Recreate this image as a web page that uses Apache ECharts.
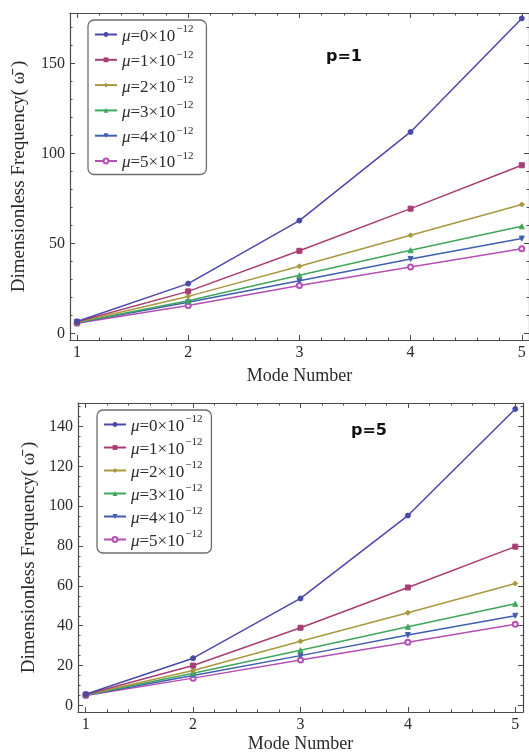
<!DOCTYPE html>
<html>
<head>
<meta charset="utf-8">
<title>Dimensionless Frequency vs Mode Number</title>
<script src="https://cdn.jsdelivr.net/npm/echarts@6/dist/echarts.min.js"></script>
<style>
html, body { margin: 0; padding: 0; background: #fff; }
#chart_box { width: 529px; height: 754px; }
</style>
</head>
<body>
<div id="chart_box"></div>
<script>
// mode numbers (x) and legend labels
var modes = [1, 2, 3, 4, 5];
var muLabels = ['0', '1', '2', '3', '4', '5'];

// p = 1, one array per mu
var p1_mu0 = [6.8, 27.8, 62.8, 112.0, 175.0];
var p1_mu1 = [6.6, 23.5, 46.0, 69.4, 93.5];
var p1_mu2 = [6.4, 20.7, 37.4, 54.6, 71.7];
var p1_mu3 = [6.2, 18.3, 32.4, 46.3, 59.6];
var p1_mu4 = [6.0, 17.4, 29.4, 41.5, 52.8];
var p1_mu5 = [5.8, 15.6, 26.7, 37.0, 47.2];

// p = 5
var p5_mu0 = [5.6, 23.7, 53.7, 95.3, 148.8];
var p5_mu1 = [5.5, 20.0, 39.0, 59.2, 79.7];
var p5_mu2 = [5.4, 17.5, 32.2, 46.5, 61.2];
var p5_mu3 = [5.2, 16.2, 27.7, 39.5, 51.0];
var p5_mu4 = [5.1, 15.0, 25.0, 35.3, 45.0];
var p5_mu5 = [5.0, 13.7, 22.8, 31.7, 40.7];

// tick values
var xMajor = [1, 2, 3, 4, 5];
var yMajorTop = [0, 50, 100, 150];
var yMajorBottom = [0, 20, 40, 60, 80, 100, 120, 140];

var colors = ['#4b48a9', '#a83d73', '#a8983f', '#3fa65c', '#3f5fae', '#b54fb4'];
var symbols = ['circle', 'rect', 'diamond', 'triangle', 'triangle', 'emptyCircle'];
var rotates = [0, 0, 0, 0, 180, 0];

var serif = '"Liberation Serif", "DejaVu Serif", serif';
var frameColor = '#4a4a4a';
var textColor = '#2a2a2a';

function minorList(lo, hi, step, majors) {
    var out = [];
    for (var v = lo; v <= hi + 1e-9; v += step) {
        var r = Math.round(v * 100) / 100;
        if (majors.indexOf(r) < 0) out.push(r);
    }
    return out;
}

// main axis (labels + major ticks), its minor ticks, then the opposite side of the frame
function frameAxes(gridIndex, isX, min, max, majors, minors, name, nameGap) {
    var pos = isX ? ['bottom', 'top'] : ['left', 'right'];
    var base = { gridIndex: gridIndex, type: 'value', min: min, max: max, splitLine: { show: false } };
    var list = [];
    [0, 1].forEach(function(side) {
        var major = Object.assign({}, base, {
            position: pos[side],
            axisLine: { show: true, onZero: false, lineStyle: { color: frameColor, width: 1.2 } },
            axisTick: { show: true, inside: true, length: 5, customValues: majors, lineStyle: { color: frameColor } },
            axisLabel: side === 0 ? {
                show: true, customValues: majors, margin: 5,
                fontFamily: serif, fontSize: 16, color: textColor
            } : { show: false }
        });
        if (side === 0) {
            major.name = name;
            major.nameLocation = 'middle';
            major.nameGap = nameGap;
            major.nameTextStyle = { fontFamily: serif, fontSize: isX ? 18 : 19, color: textColor };
        }
        var minor = Object.assign({}, base, {
            position: pos[side],
            axisLine: { show: false, onZero: false },
            axisTick: { show: true, inside: true, length: 2.5, customValues: minors, lineStyle: { color: frameColor } },
            axisLabel: { show: false }
        });
        list.push(major, minor);
    });
    return list;
}

function legendFormatter(name) {
    var k = name.split('_')[1];
    return '{m|\u03bc}{t|=' + k + '\u00d710}{s|\u221212}';
}
var legendRich = {
    m: { fontFamily: serif, fontStyle: 'italic', fontSize: 17, lineHeight: 21, verticalAlign: 'bottom', color: textColor },
    t: { fontFamily: serif, fontSize: 17, lineHeight: 21, verticalAlign: 'bottom', color: textColor },
    s: { fontFamily: serif, fontSize: 11, lineHeight: 21, verticalAlign: 'top', padding: [0, 0, 3, 1], color: textColor }
};

function makeSeries(prefix, arrays, xIdx, yIdx) {
    return arrays.map(function(arr, i) {
        return {
            name: prefix + '_' + muLabels[i],
            type: 'line',
            xAxisIndex: xIdx,
            yAxisIndex: yIdx,
            data: modes.map(function(m, j) { return [m, arr[j]]; }),
            symbol: symbols[i],
            symbolRotate: rotates[i],
            symbolSize: 5,
            showSymbol: true,
            lineStyle: { color: colors[i], width: 1.5 },
            itemStyle: { color: colors[i], borderColor: colors[i] },
            emphasis: { disabled: true },
            animation: false,
            z: 10 - i
        };
    });
}

var topNames = muLabels.map(function(k) { return 'p1_' + k; });
var bottomNames = muLabels.map(function(k) { return 'p5_' + k; });

var xAxes = []
    .concat(frameAxes(0, true, 0.937, 5.065, xMajor, minorList(1, 5, 0.2, xMajor), 'Mode Number', 27))
    .concat(frameAxes(1, true, 0.928, 5.072, xMajor, minorList(1, 5, 0.2, xMajor), 'Mode Number', 23));
var yAxes = []
    .concat(frameAxes(0, false, -3.5, 178, yMajorTop, minorList(0, 170, 10, yMajorTop), 'Dimensionless Frequency( \u03c9\u0304 )', 41))
    .concat(frameAxes(1, false, -3.3, 151.8, yMajorBottom, minorList(0, 150, 5, yMajorBottom), 'Dimensionless Frequency( \u03c9\u0304 )', 38));

var legendBase = {
    orient: 'vertical',
    itemWidth: 22,
    itemHeight: 6,
    backgroundColor: '#fff',
    borderColor: '#6d6d6d',
    borderWidth: 1.3,
    borderRadius: 6,
    selectedMode: false,
    formatter: legendFormatter,
    textStyle: { rich: legendRich }
};

var option = {
    backgroundColor: '#fff',
    color: colors,
    animation: false,
    title: [
        { text: 'p=1', left: 321, top: 44, textStyle: { fontFamily: '"DejaVu Sans", sans-serif', fontWeight: 'bold', fontSize: 16, color: '#111' } },
        { text: 'p=5', left: 346, top: 418, textStyle: { fontFamily: '"DejaVu Sans", sans-serif', fontWeight: 'bold', fontSize: 16, color: '#111' } }
    ],
    grid: [
        { left: 70, top: 13, width: 459, height: 327 },
        { left: 78, top: 403, width: 445, height: 310 }
    ],
    legend: [
        Object.assign({}, legendBase, { data: topNames, left: 88, top: 20, itemGap: 4.3, padding: [4, 13, 3, 6] }),
        Object.assign({}, legendBase, { data: bottomNames, left: 97, top: 410, itemGap: 2, padding: [4, 9, 3, 6] })
    ],
    xAxis: xAxes,
    yAxis: yAxes,
    series: []
        .concat(makeSeries('p1', [p1_mu0, p1_mu1, p1_mu2, p1_mu3, p1_mu4, p1_mu5], 0, 0))
        .concat(makeSeries('p5', [p5_mu0, p5_mu1, p5_mu2, p5_mu3, p5_mu4, p5_mu5], 4, 4))
};

var myChart = echarts.init(document.getElementById('chart_box'));
myChart.setOption(option);
</script>
</body>
</html>
